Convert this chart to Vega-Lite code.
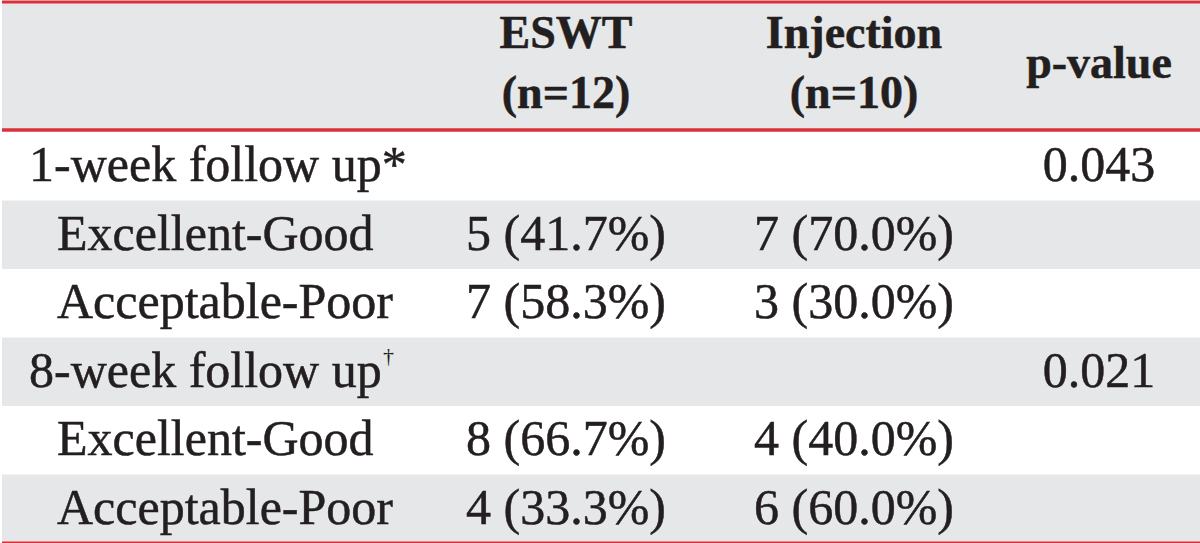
{
  "$schema": "https://vega.github.io/schema/vega-lite/v6.json",
  "padding": 0,
  "background": "white",
  "spacing": 2,
  "bounds": "flush",
  "config": {"view": {"stroke": null}, "concat": {"spacing": 2}},
  "datasets": {
    "header": [
      {"part": "header", "col": 1, "lines": 2, "text": "ESWT|(n=12)"},
      {"part": "header", "col": 2, "lines": 2, "text": "Injection|(n=10)"},
      {"part": "header", "col": 3, "lines": 1, "text": "p-value"}
    ],
    "cells": [
      {"row": "r1", "col": 0, "kind": "section", "text": "1-week follow up*"},
      {"row": "r1", "col": 3, "kind": "value", "text": "0.043"},
      {"row": "r2", "col": 0, "kind": "sub", "text": "Excellent-Good"},
      {"row": "r2", "col": 1, "kind": "value", "text": "5 (41.7%)"},
      {"row": "r2", "col": 2, "kind": "value", "text": "7 (70.0%)"},
      {"row": "r3", "col": 0, "kind": "sub", "text": "Acceptable-Poor"},
      {"row": "r3", "col": 1, "kind": "value", "text": "7 (58.3%)"},
      {"row": "r3", "col": 2, "kind": "value", "text": "3 (30.0%)"},
      {"row": "r4", "col": 0, "kind": "section", "text": "8-week follow up"},
      {"row": "r4", "col": 0, "kind": "sup", "text": "†"},
      {"row": "r4", "col": 3, "kind": "value", "text": "0.021"},
      {"row": "r5", "col": 0, "kind": "sub", "text": "Excellent-Good"},
      {"row": "r5", "col": 1, "kind": "value", "text": "8 (66.7%)"},
      {"row": "r5", "col": 2, "kind": "value", "text": "4 (40.0%)"},
      {"row": "r6", "col": 0, "kind": "sub", "text": "Acceptable-Poor"},
      {"row": "r6", "col": 1, "kind": "value", "text": "4 (33.3%)"},
      {"row": "r6", "col": 2, "kind": "value", "text": "6 (60.0%)"}
    ],
    "rows": [
      {"row": "r1"}, {"row": "r2"}, {"row": "r3"}, {"row": "r4"}, {"row": "r5"}, {"row": "r6"}
    ]
  },
  "vconcat": [
    {
      "width": 1200,
      "height": 128,
      "view": {"fill": "#e6e7e9", "stroke": null},
      "layer": [
        {
          "data": {"name": "header"},
          "transform": [{"filter": "datum.lines === 2"}],
          "mark": {"type": "text", "font": "Liberation Serif", "fontWeight": "bold", "fontSize": 46, "lineBreak": "|", "lineHeight": 60, "align": "center", "baseline": "middle", "color": "#231f20", "stroke": "#231f20", "strokeWidth": 0.5, "dy": -32},
          "encoding": {
            "x": {"field": "col", "type": "quantitative", "scale": {"domain": [0, 1, 2, 3], "range": [27, 564, 852, 1097], "zero": false, "nice": false}, "axis": null},
            "y": {"field": "part", "type": "nominal", "scale": {"domain": ["header"], "paddingInner": 0, "paddingOuter": 0}, "axis": null},
            "text": {"field": "text", "type": "nominal"}
          }
        },
        {
          "data": {"name": "header"},
          "transform": [{"filter": "datum.lines === 1"}],
          "mark": {"type": "text", "font": "Liberation Serif", "fontWeight": "bold", "fontSize": 46, "align": "center", "baseline": "middle", "color": "#231f20", "stroke": "#231f20", "strokeWidth": 0.5, "dy": -2},
          "encoding": {
            "x": {"field": "col", "type": "quantitative", "scale": {"domain": [0, 1, 2, 3], "range": [27, 564, 852, 1097], "zero": false, "nice": false}, "axis": null},
            "y": {"field": "part", "type": "nominal", "axis": null},
            "text": {"field": "text", "type": "nominal"}
          }
        },
        {
          "data": {"values": [{"part": "header"}]},
          "mark": {"type": "rule", "color": "#d8313b", "strokeWidth": 3},
          "encoding": {"y": {"field": "part", "type": "nominal", "bandPosition": 0, "axis": null}}
        },
        {
          "data": {"values": [{"part": "header"}]},
          "mark": {"type": "rule", "color": "#d8313b", "strokeWidth": 3.5},
          "encoding": {"y": {"field": "part", "type": "nominal", "bandPosition": 1, "axis": null}}
        }
      ]
    },
    {
      "width": 1200,
      "height": 411,
      "layer": [
        {
          "data": {"name": "rows"},
          "mark": {"type": "rect"},
          "encoding": {
            "y": {"field": "row", "type": "nominal", "scale": {"domain": ["r1", "r2", "r3", "r4", "r5", "r6"], "paddingInner": 0, "paddingOuter": 0}, "axis": null},
            "color": {"field": "row", "type": "nominal", "scale": {"domain": ["r1", "r2", "r3", "r4", "r5", "r6"], "range": ["#ffffff", "#e6e7e9", "#ffffff", "#e6e7e9", "#ffffff", "#e6e7e9"]}, "legend": null}
          }
        },
        {
          "data": {"name": "cells"},
          "transform": [{"filter": "datum.kind === 'section'"}],
          "mark": {"type": "text", "font": "Liberation Serif", "fontSize": 50, "align": "left", "baseline": "middle", "color": "#231f20", "stroke": "#231f20", "strokeWidth": 0.5},
          "encoding": {
            "x": {"field": "col", "type": "quantitative", "scale": {"domain": [0, 1, 2, 3], "range": [27, 564, 852, 1097], "zero": false, "nice": false}, "axis": null},
            "y": {"field": "row", "type": "nominal", "axis": null},
            "text": {"field": "text", "type": "nominal"}
          }
        },
        {
          "data": {"name": "cells"},
          "transform": [{"filter": "datum.kind === 'sub'"}],
          "mark": {"type": "text", "font": "Liberation Serif", "fontSize": 50, "align": "left", "baseline": "middle", "color": "#231f20", "stroke": "#231f20", "strokeWidth": 0.5, "dx": 28},
          "encoding": {
            "x": {"field": "col", "type": "quantitative", "scale": {"domain": [0, 1, 2, 3], "range": [27, 564, 852, 1097], "zero": false, "nice": false}, "axis": null},
            "y": {"field": "row", "type": "nominal", "axis": null},
            "text": {"field": "text", "type": "nominal"}
          }
        },
        {
          "data": {"name": "cells"},
          "transform": [{"filter": "datum.kind === 'value'"}],
          "mark": {"type": "text", "font": "Liberation Serif", "fontSize": 50, "align": "center", "baseline": "middle", "color": "#231f20", "stroke": "#231f20", "strokeWidth": 0.5},
          "encoding": {
            "x": {"field": "col", "type": "quantitative", "scale": {"domain": [0, 1, 2, 3], "range": [27, 564, 852, 1097], "zero": false, "nice": false}, "axis": null},
            "y": {"field": "row", "type": "nominal", "axis": null},
            "text": {"field": "text", "type": "nominal"}
          }
        },
        {
          "data": {"name": "cells"},
          "transform": [{"filter": "datum.kind === 'sup'"}],
          "mark": {"type": "text", "font": "Liberation Serif", "fontSize": 22, "align": "left", "baseline": "middle", "color": "#231f20", "dx": 354, "dy": -16},
          "encoding": {
            "x": {"field": "col", "type": "quantitative", "scale": {"domain": [0, 1, 2, 3], "range": [27, 564, 852, 1097], "zero": false, "nice": false}, "axis": null},
            "y": {"field": "row", "type": "nominal", "axis": null},
            "text": {"field": "text", "type": "nominal"}
          }
        },
        {
          "data": {"values": [{"row": "r6"}]},
          "mark": {"type": "rule", "color": "#d8313b", "strokeWidth": 3},
          "encoding": {"y": {"field": "row", "type": "nominal", "bandPosition": 1, "axis": null}}
        }
      ]
    }
  ]
}
